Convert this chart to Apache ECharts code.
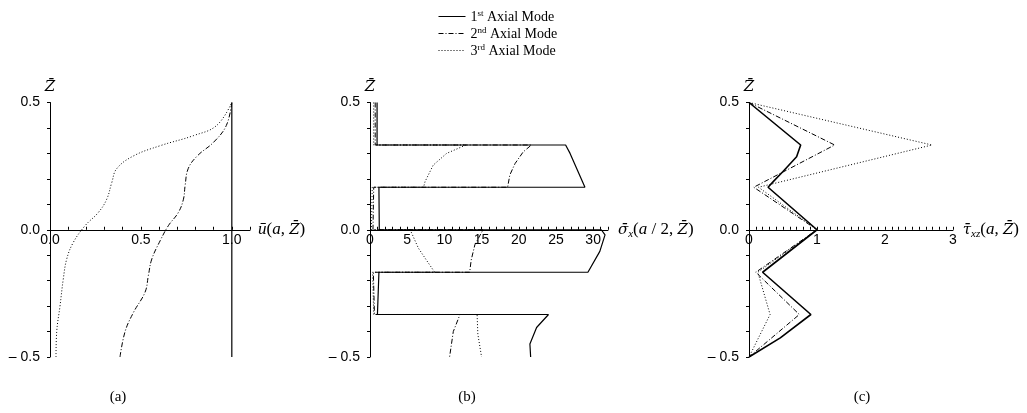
<!DOCTYPE html>
<html>
<head>
<meta charset="utf-8">
<script src="https://cdn.jsdelivr.net/npm/echarts@6/dist/echarts.min.js"></script>
<style>
html, body { margin: 0; padding: 0; background: #fff; }
#chart { width: 1027px; height: 413px; }
</style>
</head>
<body>
<div id="chart"></div>
<script>
// Mode names shown in the legend
const modeNames = ['1st Axial Mode', '2nd Axial Mode', '3rd Axial Mode'];
const panelCaptions = ['(a)', '(b)', '(c)'];

// Labelled tick values
const zTickLabels = [-0.5, 0, 0.5];
const uTickLabels = [0, 0.5, 1.0];
const sigmaTickLabels = [0, 5, 10, 15, 20, 25, 30];
const tauTickLabels = [0, 1, 2, 3];

// (a) normalised axial displacement u(a, Z) through the thickness
const zA1 = [-0.5, 0.5];
const uA1 = [1.0, 1.0];
const zA2 = [-0.5, -0.40, -0.325, -0.245, -0.18, -0.115, -0.043, 0.016, 0.068, 0.12, 0.173, 0.24, 0.29, 0.344, 0.41, 0.5];
const uA2 = [0.385, 0.413, 0.459, 0.523, 0.541, 0.56, 0.606, 0.651, 0.706, 0.734, 0.743, 0.76, 0.81, 0.90, 0.97, 1.0];
const zA3 = [-0.5, -0.40, -0.30, -0.194, -0.115, -0.05, 0.016, 0.068, 0.12, 0.186, 0.24, 0.29, 0.33, 0.37, 0.41, 0.5];
const uA3 = [0.033, 0.037, 0.055, 0.073, 0.092, 0.128, 0.193, 0.266, 0.312, 0.34, 0.367, 0.459, 0.605, 0.79, 0.917, 1.0];

// (b) normal stress sigma_x(a/2, Z), layer by layer (top to bottom)
const zB1 = [0.5, 0.333, 0.333, 0.30, 0.167, 0.167, 0, 0, -0.02, -0.085, -0.167, -0.167, -0.333, -0.333, -0.384, -0.449, -0.5];
const sB1 = [0.95, 0.95, 26.3, 26.9, 28.9, 1.2, 1.25, 31.1, 31.6, 30.9, 29.3, 1.2, 1.0, 24.0, 22.4, 21.5, 21.6];
const zB2 = [0.5, 0.333, 0.333, 0.306, 0.26, 0.215, 0.167, 0.167, 0, 0, -0.059, -0.12, -0.167, -0.167, -0.333, -0.333, -0.40, -0.5];
const sB2 = [0.7, 0.7, 21.7, 20.6, 19.5, 18.8, 18.5, 0.5, 0.4, 15.2, 14.1, 13.6, 13.4, 0.45, 0.6, 12.1, 11.2, 10.7];
const zB3 = [0.5, 0.333, 0.333, 0.30, 0.254, 0.189, 0.167, 0.167, 0, 0, -0.072, -0.12, -0.167, -0.167, -0.333, -0.333, -0.41, -0.5];
const sB3 = [0.5, 0.5, 12.9, 10.3, 8.5, 7.4, 7.2, 0.3, 0.2, 5.4, 6.5, 7.6, 8.7, 0.35, 0.5, 14.4, 14.5, 15.0];

// (c) transverse shear stress tau_xz(a, Z)
const zC1 = [0.5, 0.333, 0.287, 0.229, 0.19, 0.167, 0, -0.167, -0.333, -0.425, -0.5];
const tC1 = [0, 0.76, 0.70, 0.50, 0.36, 0.28, 1.0, 0.2, 0.91, 0.46, 0];
const zC2 = [0.5, 0.333, 0.167, 0, -0.167, -0.333, -0.5];
const tC2 = [0, 1.26, 0.07, 1.0, 0.1, 0.74, 0];
const zC3 = [0.5, 0.333, 0.167, 0, -0.167, -0.333, -0.5];
const tC3 = [0, 2.69, 0.14, 1.0, 0.13, 0.31, 0];

const zip = (xs, zs) => xs.map((x, i) => [x, zs[i]]);

const lineTypes = ['solid', [5, 2, 1, 2], [1, 2]];
const serif = 'Liberation Serif';
const sans = 'Liberation Sans';
const GRID_TOP = 102.5;
const GRID_H = 254.5;

const mathRich = {
  i: { fontFamily: serif, fontStyle: 'italic', fontSize: 17, color: '#000', lineHeight: 20, verticalAlign: 'middle' },
  b: { fontFamily: 'DejaVu Serif', fontStyle: 'italic', fontSize: 15, color: '#000', lineHeight: 20, verticalAlign: 'middle' },
  r: { fontFamily: serif, fontSize: 17, color: '#000', lineHeight: 20, verticalAlign: 'middle' },
  sub: { fontFamily: serif, fontStyle: 'italic', fontSize: 11, color: '#000', lineHeight: 11, verticalAlign: 'bottom' }
};

const isLabelled = (v, list) => list.some(t => Math.abs(v - t) < 1e-6);

function yAxisFor(grid) {
  return {
    type: 'value', gridIndex: grid, min: -0.5, max: 0.5, interval: 0.1,
    name: '{b|Z\u0304}', nameLocation: 'end', nameGap: 5,
    nameTextStyle: { rich: mathRich, align: 'center' },
    axisLine: { show: true, onZero: false, lineStyle: { color: '#000', width: 1 } },
    axisTick: { show: true, inside: false, length: 3, lineStyle: { color: '#000' } },
    splitLine: { show: false },
    axisLabel: {
      margin: 10, fontFamily: sans, fontSize: 14, color: '#000',
      showMinLabel: true, showMaxLabel: true,
      formatter: v => {
        if (!isLabelled(v, zTickLabels)) return '';
        return v < 0 ? '\u2013 ' + Math.abs(v).toFixed(1) : Math.abs(v).toFixed(1);
      }
    }
  };
}

// The abscissa runs through Z = 0, i.e. half-way up the grid
function xAxisFor(grid, max, interval, labels, fmt, name, gap) {
  return {
    type: 'value', gridIndex: grid, min: 0, max: max, interval: interval,
    position: 'bottom', offset: -GRID_H / 2,
    name: name, nameLocation: 'end', nameGap: gap,
    nameTextStyle: { rich: mathRich, align: 'left', verticalAlign: 'middle' },
    axisLine: { show: true, onZero: false, lineStyle: { color: '#000', width: 1 } },
    axisTick: { show: true, inside: true, length: 3, lineStyle: { color: '#000' } },
    splitLine: { show: false },
    axisLabel: {
      margin: 3, fontFamily: sans, fontSize: 14, color: '#000',
      showMinLabel: true, showMaxLabel: true,
      formatter: v => isLabelled(v, labels) ? fmt(v) : ''
    }
  };
}

const grids = [
  { left: 50, width: 200 },
  { left: 370, width: 238 },
  { left: 749, width: 204 }
].map(g => Object.assign({ top: GRID_TOP, height: GRID_H, outerBoundsMode: 'none', containLabel: false }, g));

function lineSeries(i, grid, data, opts) {
  return Object.assign({
    name: modeNames[i], type: 'line', xAxisIndex: grid, yAxisIndex: grid,
    data: data, symbol: 'none', showSymbol: false, silent: true, animation: false,
    itemStyle: { color: '#000' },
    lineStyle: { color: '#000', width: i === 0 ? 1.2 : 1, type: lineTypes[i] }
  }, opts || {});
}

const smoothA = { smooth: 0.4 };
const series = [
  lineSeries(0, 0, zip(uA1, zA1)),
  lineSeries(1, 0, zip(uA2, zA2), smoothA),
  lineSeries(2, 0, zip(uA3, zA3), smoothA),
  lineSeries(0, 1, zip(sB1, zB1)),
  lineSeries(1, 1, zip(sB2, zB2)),
  lineSeries(2, 1, zip(sB3, zB3)),
  lineSeries(0, 2, zip(tC1, zC1), { lineStyle: { color: '#000', width: 1.6, type: 'solid' } }),
  lineSeries(1, 2, zip(tC2, zC2)),
  lineSeries(2, 2, zip(tC3, zC3))
];

const option = {
  backgroundColor: '#fff',
  animation: false,
  legend: {
    data: modeNames,
    orient: 'vertical',
    left: 433, top: 4,
    itemWidth: 27, itemHeight: 14, itemGap: 2,
    selectedMode: false,
    itemStyle: { opacity: 0 },
    lineStyle: { width: 1 },
    textStyle: {
      color: '#000',
      rich: {
        n: { fontFamily: serif, fontSize: 14, color: '#000', lineHeight: 15, verticalAlign: 'bottom' },
        s: { fontFamily: serif, fontSize: 9, color: '#000', lineHeight: 9, verticalAlign: 'top' }
      }
    },
    formatter: name => {
      const m = name.match(/^(\d)(st|nd|rd) (.*)$/);
      return '{n|' + m[1] + '}{s|' + m[2] + '}{n| ' + m[3] + '}';
    }
  },
  grid: grids,
  xAxis: [
    xAxisFor(0, 1.1, 0.1, uTickLabels, v => v.toFixed(1),
      '{i|\u016B}{r|(}{i|a}{r|, }{b|Z\u0304}{r|)}', 8),
    xAxisFor(1, 32, 1, sigmaTickLabels, v => String(Math.round(v)),
      '{b|\u03C3\u0304}{sub|x}{r|(}{i|a}{r| / 2, }{b|Z\u0304}{r|)}', 10),
    xAxisFor(2, 3, 0.1, tauTickLabels, v => String(Math.round(v)),
      '{b|\u03C4\u0304}{sub|xz}{r|(}{i|a}{r|, }{b|Z\u0304}{r|)}', 5)
  ],
  yAxis: [yAxisFor(0), yAxisFor(1), yAxisFor(2)],
  series: series,
  graphic: panelCaptions.map((t, k) => ({
    type: 'text', x: [118, 467, 862][k], y: 397, silent: true,
    style: { text: t, font: '15px "Liberation Serif"', fill: '#000', textAlign: 'center', textVerticalAlign: 'middle' }
  }))
};

const chart = echarts.init(document.getElementById('chart'), null, { renderer: 'canvas' });
chart.setOption(option);
</script>
</body>
</html>
